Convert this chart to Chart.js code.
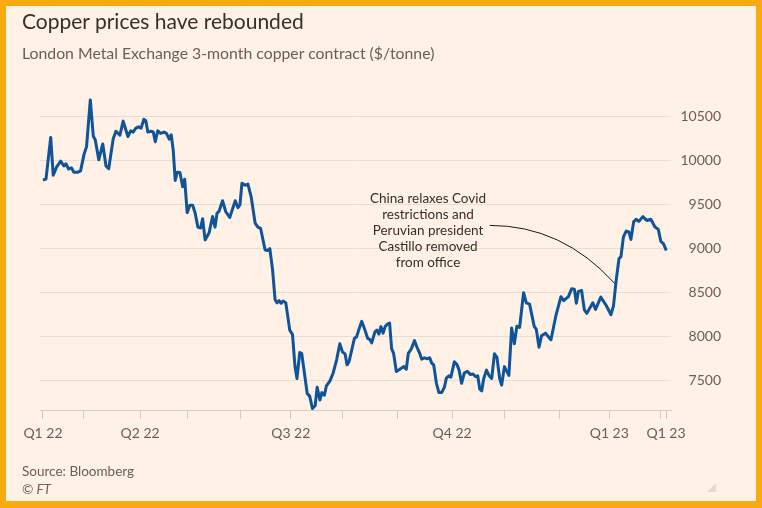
<!DOCTYPE html>
<html>
<head>
<meta charset="utf-8">
<script src="https://cdn.jsdelivr.net/npm/chart.js@4.4.1/dist/chart.umd.min.js"></script>
<style>
  html, body { margin: 0; padding: 0; }
  body { width: 762px; height: 508px; background: #f8ab0e; position: relative; overflow: hidden; font-family: Lato, sans-serif; }
  .papel { position: absolute; left: 6px; top: 6px; width: 750px; height: 495px; background: #fff1e5; }
  canvas { position: absolute; left: 0; top: 0; }
  .titulo { position: absolute; left: 22px; top: 8px; font-size: 21px; color: #33302e; white-space: nowrap; }
  .subtitulo { position: absolute; left: 22px; top: 43px; font-size: 15.8px; color: #66605c; white-space: nowrap; }
  .fuente { position: absolute; left: 22px; top: 462px; font-size: 13.5px; color: #66605c; line-height: 18px; }
  .fuente i { display: block; }
  .nota { position: absolute; left: 348px; top: 190px; width: 160px; text-align: center; font-size: 13.5px; line-height: 16px; color: #33302e; }
  .esquina { position: absolute; left: 707px; top: 483px; width: 0; height: 0; border-left: 9px solid transparent; border-bottom: 9px solid #dedad6; }
</style>
</head>
<body>
<div class="papel"></div>
<canvas id="graficaCobre" width="762" height="508"></canvas>
<div class="titulo">Copper prices have rebounded</div>
<div class="subtitulo">London Metal Exchange 3-month copper contract ($/tonne)</div>
<div class="nota">China relaxes Covid<br>restrictions and<br>Peruvian president<br>Castillo removed<br>from office</div>
<div class="fuente">Source: Bloomberg<i>© FT</i></div>
<div class="esquina"></div>
<script>
// Trading-day index and LME 3-month copper price ($/tonne)
const dias = [
  0, 1.2, 3.1, 4.1, 5.5, 7.1, 8.4, 9.2, 10.3, 11.4, 12.4, 14.0, 15.1, 16.5, 17.5, 19.0, 20.2, 21.0, 22.4, 24.0,
  25.3, 26.4, 28.2, 29.3, 30.9, 32.2, 34.1, 35.2, 36.2, 37.3, 38.4, 39.4, 40.5, 41.3, 42.1, 43.5, 44.3, 45.1, 46.1, 47.2,
  48.6, 49.6, 50.7, 51.5, 52.3, 53.1, 53.9, 55.0, 56.1, 56.9, 57.9, 59.0, 60.1, 61.1, 62.2, 63.3, 64.1, 65.1, 66.7, 68.1,
  69.1, 69.9, 70.7, 72.1, 73.4, 75.0, 77.2, 78.3, 79.1, 79.9, 81.2, 82.3, 83.6, 85.2, 86.3, 87.4, 89.2, 90.3, 91.1, 92.2,
  93.2, 94.0, 94.8, 95.6, 96.4, 97.5, 99.1, 100.2, 101.2, 102.0, 103.1, 103.9, 105.0, 106.1, 107.1, 108.2, 109.3, 110.1, 111.2, 112.0,
  113.0, 113.8, 115.2, 116.5, 117.9, 119.2, 120.3, 121.3, 122.1, 122.9, 124.0, 125.1, 125.9, 126.9, 128.0, 129.3, 130.4, 131.2, 132.0, 133.3,
  134.1, 134.9, 135.7, 136.6, 137.4, 138.4, 139.2, 140.0, 140.8, 141.9, 143.3, 144.9, 145.9, 146.7, 147.8, 149.2, 150.2, 151.3, 152.1, 153.2,
  154.2, 155.3, 156.1, 156.9, 158.0, 159.0, 160.1, 161.2, 162.0, 163.0, 163.8, 165.2, 166.3, 167.1, 168.1, 169.2, 170.5, 171.6, 172.7, 173.8,
  174.6, 175.4, 176.2, 177.0, 178.1, 179.1, 180.2, 181.3, 182.3, 183.4, 184.2, 185.3, 187.1, 188.2, 189.3, 190.3, 191.4, 193.0, 194.1, 195.4,
  197.3, 198.1, 199.2, 200.2, 201.8, 204.0, 205.9, 208.0, 209.1, 211.0, 212.3, 213.4, 214.2, 215.0, 216.3, 217.4, 218.4, 220.8, 221.9, 224.0,
  226.2, 228.1, 229.1, 230.2, 231.3, 232.1, 233.1, 234.2, 235.3, 236.1, 237.2, 238.2, 239.3, 240.9, 242.5, 244.1, 245.7, 247.1, 248.1, 249.2,
  250.3
];
const precios = [
  9775, 9785, 10260, 9830, 9925, 9990, 9935, 9960, 9900, 9915, 9865, 9865, 9880, 10070, 10155, 10685, 10275, 10230, 10005, 10185,
  9935, 9905, 10245, 10330, 10285, 10445, 10270, 10335, 10320, 10365, 10380, 10365, 10465, 10450, 10320, 10330, 10320, 10210, 10335, 10305,
  10320, 10305, 10240, 10290, 10115, 9770, 9865, 9860, 9700, 9785, 9405, 9490, 9490, 9400, 9240, 9230, 9335, 9095, 9175, 9360,
  9240, 9400, 9420, 9540, 9415, 9350, 9540, 9460, 9495, 9740, 9715, 9730, 9585, 9285, 9240, 9225, 8980, 8975, 8995, 8755,
  8415, 8380, 8405, 8375, 8400, 8380, 8070, 8020, 7655, 7520, 7815, 7805, 7580, 7350, 7320, 7180, 7210, 7420, 7275, 7360,
  7330, 7435, 7490, 7580, 7730, 7915, 7820, 7800, 7675, 7710, 7845, 7980, 7990, 8080, 8170, 8070, 7975, 7965, 7925, 8050,
  8070, 8025, 8110, 8035, 8110, 8140, 8150, 7860, 7805, 7600, 7625, 7655, 7625, 7805, 7850, 7950, 7875, 7805, 7740, 7755,
  7745, 7755, 7695, 7675, 7465, 7360, 7360, 7420, 7525, 7550, 7535, 7710, 7675, 7615, 7465, 7585, 7600, 7565, 7570, 7540,
  7550, 7400, 7380, 7520, 7615, 7555, 7520, 7800, 7760, 7520, 7445, 7655, 7555, 8095, 7915, 8115, 8100, 8495, 8380, 8365,
  8110, 8080, 7875, 8005, 8035, 7960, 8225, 8450, 8405, 8450, 8540, 8535, 8375, 8510, 8520, 8300, 8260, 8380, 8305, 8445,
  8350, 8245, 8345, 8640, 8880, 8905, 9130, 9195, 9185, 9100, 9300, 9330, 9305, 9360, 9315, 9330, 9245, 9215, 9080, 9050,
  8975
];

// x-axis tick marks (trading-day index) and their labels
const marcasX = [0, 16.1, 39, 58.2, 79.4, 99.5, 120.4, 142.2, 164.3, 185.3, 207.5, 227.4, 247.9, 250.2];
const etiquetasX = ['Q1 22', '', 'Q2 22', '', '', 'Q3 22', '', '', 'Q4 22', '', '', 'Q1 23', '', 'Q1 23'];
const marcasY = [7500, 8000, 8500, 9000, 9500, 10000, 10500];

// connector for the annotation: start, bend and end in data units
const notaDesde = { x: 179.4, y: 9260 };
const notaCurva = { x: 208.5, y: 9260 };
const notaHasta = { x: 229.6, y: 8600 };

const puntos = dias.map((d, i) => ({ x: d, y: precios[i] }));

const conector = {
  id: 'conector',
  afterDatasetsDraw(chart) {
    const { ctx, scales: { x, y } } = chart;
    ctx.save();
    ctx.strokeStyle = '#1a1817';
    ctx.lineWidth = 1;
    ctx.beginPath();
    ctx.moveTo(x.getPixelForValue(notaDesde.x), y.getPixelForValue(notaDesde.y));
    ctx.quadraticCurveTo(
      x.getPixelForValue(notaCurva.x), y.getPixelForValue(notaCurva.y),
      x.getPixelForValue(notaHasta.x), y.getPixelForValue(notaHasta.y)
    );
    ctx.stroke();
    ctx.restore();
  }
};

new Chart(document.getElementById('graficaCobre'), {
  type: 'line',
  data: {
    datasets: [{
      data: puntos,
      borderColor: '#0f5499',
      borderWidth: 3,
      pointRadius: 0,
      tension: 0,
      borderJoinStyle: 'round'
    }]
  },
  options: {
    responsive: false,
    animation: false,
    events: [],
    layout: { padding: { left: 40, right: 41, top: 94, bottom: 60 } },
    plugins: { legend: { display: false }, tooltip: { enabled: false } },
    scales: {
      x: {
        type: 'linear',
        min: -1.2,
        max: 252.2,
        afterBuildTicks: (eje) => { eje.ticks = marcasX.map((v) => ({ value: v })); },
        afterFit: (eje) => { eje.height = 38; },
        grid: { drawOnChartArea: false, drawTicks: true, tickLength: 9, color: '#d4cbc3', lineWidth: 1 },
        border: { display: true, color: '#d4cbc3', width: 1 },
        ticks: {
          autoSkip: false,
          maxRotation: 0,
          padding: 6,
          color: '#66605c',
          font: { family: 'Lato', size: 14 },
          callback: (valor, i) => etiquetasX[i]
        }
      },
      y: {
        position: 'right',
        min: 7162,
        max: 10753,
        afterBuildTicks: (eje) => { eje.ticks = marcasY.map((v) => ({ value: v })); },
        afterFit: (eje) => { eje.width = 50; },
        grid: { drawTicks: false, color: '#e9ded4', lineWidth: 1 },
        border: { display: false },
        ticks: {
          padding: 4,
          crossAlign: 'far',
          color: '#66605c',
          font: { family: 'Lato', size: 14 },
          callback: (valor) => String(valor)
        }
      }
    }
  },
  plugins: [conector]
});
</script>
</body>
</html>
